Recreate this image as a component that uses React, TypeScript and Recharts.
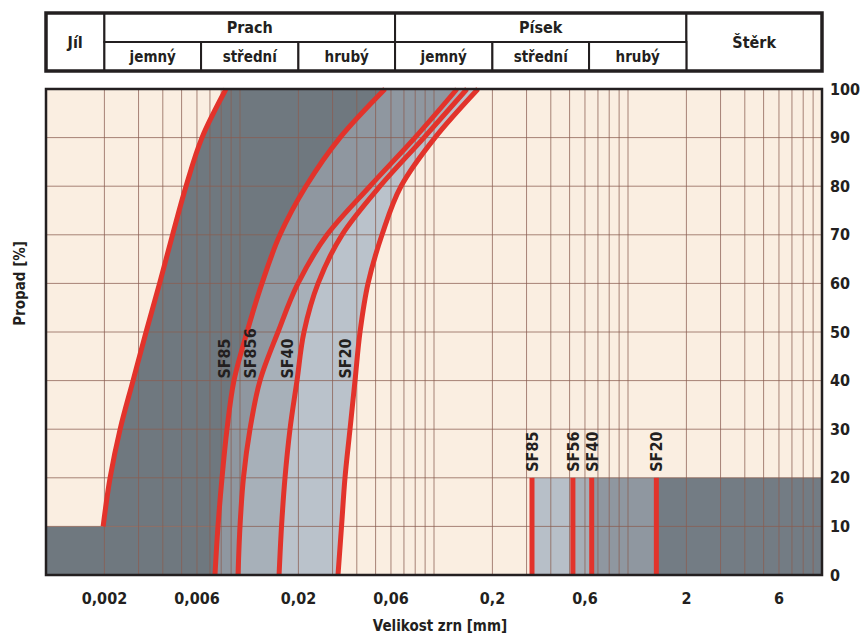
import {
  ComposedChart,
  Area,
  Line,
  XAxis,
  YAxis,
  CartesianGrid,
  ReferenceArea,
  ReferenceLine,
  ReferenceDot,
  Label,
} from 'recharts'

const FONT =
  "'Liberation Sans Narrow', 'DejaVu Sans Condensed', 'Roboto Condensed', 'Arial Narrow', 'Liberation Sans', sans-serif"
const INK = '#231f20'
const RED = '#e2332b'

// propad [%]
const PASSING = [0, 10, 20, 30, 40, 50, 60, 70, 80, 90, 100]
// velikost zrn [mm] for each passing value
const ENVELOPE = [null, 0.00197, 0.00214, 0.00241, 0.00281, 0.00328, 0.00385, 0.00449, 0.00527, 0.00637, 0.00847]
const SF85 = [0.00743, 0.0077, 0.00808, 0.00857, 0.00931, 0.01087, 0.01298, 0.01607, 0.02188, 0.03278, 0.0559]
const SF856 = [0.00977, 0.01, 0.01042, 0.01126, 0.01268, 0.0157, 0.0199, 0.02809, 0.04677, 0.0798, 0.1314]
const SF40 = [0.0159, 0.01637, 0.01706, 0.0181, 0.01967, 0.02137, 0.02526, 0.03357, 0.0527, 0.08882, 0.1479]
const SF20 = [0.032, 0.03337, 0.03477, 0.0369, 0.03916, 0.04156, 0.04571, 0.05395, 0.06761, 0.1012, 0.1686]

const CURVE_LABELS = ['SF85', 'SF856', 'SF40', 'SF20']
const CURVE_KEYS = ['B', 'C', 'D', 'E']
const CURVE_LABEL_AT = 40

// clay block at the bottom left
const CLAY_EDGE = 0.001
const CLAY_TOP = 10

// coarse fraction marks at the bottom right
const SIEVE_LABELS = ['SF85', 'SF56', 'SF40', 'SF20']
const SIEVE_SIZES = [0.32, 0.52, 0.65, 1.4]
const SIEVE_TOP = 20
const SIEVE_END = 10
const SIEVE_FILLS = ['#b7bfc8', '#a6aeb7', '#8f97a0', '#737c84']

const X_TICKS = [0.002, 0.006, 0.02, 0.06, 0.2, 0.6, 2, 6]
const DECADES = [0.001, 0.01, 0.1, 1]
const STEPS = [1, 2, 3, 4, 5, 6, 7, 8, 9]
const GRID_X = [...DECADES.flatMap(d => STEPS.map(s => +(d * s).toPrecision(3))), 10]

// header table
const CLASS_NAMES = ['Jíl', 'Prach', 'Písek', 'Štěrk']
const CLASS_BOUNDS = [0.001, 0.002, 0.063, 2, 10]
const SUB_NAMES = ['jemný', 'střední', 'hrubý', 'jemný', 'střední', 'hrubý']
const SUB_BOUNDS = [0.002, 0.0063, 0.02, 0.063, 0.2, 0.63, 2]

const BAND_FILLS = {
  dark: '#6f787f',
  bc: '#8f97a0',
  cd: '#a7b0b9',
  de: '#bac2cb',
}

const rows = PASSING.map((p, i) => ({
  p,
  A: ENVELOPE[i],
  B: SF85[i],
  C: SF856[i],
  D: SF40[i],
  E: SF20[i],
}))

const fmt = (v: number) => String(v).replace('.', ',')

const PropadLabel = (props: any) => {
  const vb = props.viewBox || {}
  const x = (vb.x ?? 0) + 25
  const y = (vb.y ?? 0) + (vb.height ?? 0) * 0.4
  return (
    <text
      x={x}
      y={y}
      transform={`rotate(-90 ${x} ${y})`}
      textAnchor="middle"
      fontSize={15}
      fontWeight={700}
      fill={INK}
    >
      Propad [%]
    </text>
  )
}

const rotatedText = (text: string, shiftX: number, shiftY: number) => (props: any) => {
  const x = props.cx + shiftX
  const y = props.cy + shiftY
  return (
    <text
      x={x}
      y={y}
      transform={`rotate(-90 ${x} ${y})`}
      textAnchor="start"
      fontSize={16}
      fontWeight={700}
      fill={INK}
    >
      {text}
    </text>
  )
}

function Header() {
  const headerData = CLASS_BOUNDS.map(x => ({ x }))
  const labelStyle = { fill: INK, fontWeight: 700 }
  return (
    <ComposedChart
      width={861}
      height={80}
      data={headerData}
      margin={{ top: 13, right: 39, bottom: 9, left: 46 }}
    >
      <XAxis type="number" dataKey="x" scale="log" domain={[0.001, 10]} allowDataOverflow hide />
      <YAxis type="number" domain={[0, 2]} allowDataOverflow hide />
      {CLASS_NAMES.map((name, i) => {
        const spansBoth = i === 0 || i === CLASS_NAMES.length - 1
        return (
          <ReferenceArea
            key={'c' + i}
            x1={CLASS_BOUNDS[i]}
            x2={CLASS_BOUNDS[i + 1]}
            y1={spansBoth ? 0 : 1}
            y2={2}
            fill="#ffffff"
            fillOpacity={1}
            stroke={INK}
            strokeWidth={2}
            label={{ value: name, position: 'center', fontSize: 16, ...labelStyle }}
          />
        )
      })}
      {SUB_NAMES.map((name, i) => (
        <ReferenceArea
          key={'s' + i}
          x1={SUB_BOUNDS[i]}
          x2={SUB_BOUNDS[i + 1]}
          y1={0}
          y2={1}
          fill="#ffffff"
          fillOpacity={1}
          stroke={INK}
          strokeWidth={2}
          label={{ value: name, position: 'center', fontSize: 15, ...labelStyle }}
        />
      ))}
      <ReferenceArea
        x1={0.001}
        x2={10}
        y1={0}
        y2={2}
        fill="none"
        stroke={INK}
        strokeWidth={3.5}
      />
    </ComposedChart>
  )
}

export default function App() {
  const tickStyle = { fill: INK, fontWeight: 700 }
  return (
    <div
      style={{
        position: 'absolute',
        left: 0,
        top: 0,
        width: 861,
        height: 637,
        background: '#fff',
        fontFamily: FONT,
      }}
    >
      <Header />
      <ComposedChart
        layout="vertical"
        width={861}
        height={557}
        data={rows}
        margin={{ top: 9, right: 0, bottom: 0, left: 0 }}
      >
        <CartesianGrid horizontal={false} vertical={false} fill="#faeee1" />
        <XAxis
          type="number"
          scale="log"
          domain={[0.001, 10]}
          allowDataOverflow
          ticks={X_TICKS}
          interval={0}
          tickFormatter={fmt}
          tickLine={false}
          axisLine={false}
          tickSize={0}
          tickMargin={18}
          height={62}
          tick={{ ...tickStyle, fontSize: 16 }}
        >
          <Label
            value="Velikost zrn [mm]"
            position="insideBottom"
            offset={6}
            dx={6}
            fontSize={15}
            fontWeight={700}
            fill={INK}
          />
        </XAxis>
        <YAxis
          yAxisId="left"
          orientation="left"
          type="number"
          dataKey="p"
          domain={[0, 100]}
          reversed
          width={46}
          tick={false}
          tickLine={false}
          axisLine={false}
        >
          <Label content={PropadLabel} />
        </YAxis>
        <YAxis
          orientation="right"
          type="number"
          dataKey="p"
          domain={[0, 100]}
          reversed
          ticks={PASSING}
          interval={0}
          width={39}
          tickLine={false}
          axisLine={false}
          tickSize={0}
          tickMargin={8}
          tick={{ ...tickStyle, fontSize: 16 }}
        />

        {/* clay block + band between the envelope and SF85 */}
        <Area
          dataKey={(d: any) => (d.p <= CLAY_TOP ? [CLAY_EDGE, d.B] : null)}
          type="linear"
          fill={BAND_FILLS.dark}
          fillOpacity={1}
          stroke="none"
          dot={false}
          activeDot={false}
          isAnimationActive={false}
        />
        <Area
          dataKey={(d: any) => (d.A == null ? null : [d.A, d.B])}
          type="monotone"
          fill={BAND_FILLS.dark}
          fillOpacity={1}
          stroke="none"
          dot={false}
          activeDot={false}
          isAnimationActive={false}
        />
        <Area
          dataKey={(d: any) => [d.B, d.C]}
          type="monotone"
          fill={BAND_FILLS.bc}
          fillOpacity={1}
          stroke="none"
          dot={false}
          activeDot={false}
          isAnimationActive={false}
        />
        <Area
          dataKey={(d: any) => [d.C, d.D]}
          type="monotone"
          fill={BAND_FILLS.cd}
          fillOpacity={1}
          stroke="none"
          dot={false}
          activeDot={false}
          isAnimationActive={false}
        />
        <Area
          dataKey={(d: any) => [d.D, d.E]}
          type="monotone"
          fill={BAND_FILLS.de}
          fillOpacity={1}
          stroke="none"
          dot={false}
          activeDot={false}
          isAnimationActive={false}
        />

        {/* coarse block at the bottom right */}
        {SIEVE_SIZES.map((s, i) => (
          <Area
            key={'sv' + i}
            dataKey={(d: any) =>
              d.p <= SIEVE_TOP ? [s, i + 1 < SIEVE_SIZES.length ? SIEVE_SIZES[i + 1] : SIEVE_END] : null
            }
            type="linear"
            fill={SIEVE_FILLS[i]}
            fillOpacity={1}
            stroke="none"
            dot={false}
            activeDot={false}
            isAnimationActive={false}
          />
        ))}

        <CartesianGrid
          zIndex={150}
          verticalValues={GRID_X}
          horizontalValues={PASSING}
          stroke="#8a5e52"
          strokeOpacity={0.75}
          strokeWidth={1}
        />

        {['A', 'B', 'C', 'D', 'E'].map(k => (
          <Line
            key={k}
            dataKey={k}
            type="monotone"
            stroke={RED}
            strokeWidth={5}
            dot={false}
            activeDot={false}
            isAnimationActive={false}
          />
        ))}

        {SIEVE_SIZES.map((s, i) => (
          <ReferenceLine
            key={'sl' + i}
            zIndex={400}
            segment={[
              { x: s, y: 0 },
              { x: s, y: SIEVE_TOP },
            ]}
            stroke={RED}
            strokeWidth={5}
          />
        ))}

        {CURVE_KEYS.map((k, i) => (
          <ReferenceDot
            key={'cl' + i}
            zIndex={600}
            x={(rows.find(r => r.p === CURVE_LABEL_AT) as any)[k]}
            y={CURVE_LABEL_AT}
            r={0}
            shape={rotatedText(CURVE_LABELS[i], -4, -2)}
          />
        ))}
        {SIEVE_SIZES.map((s, i) => (
          <ReferenceDot
            key={'sd' + i}
            zIndex={600}
            x={s}
            y={SIEVE_TOP}
            r={0}
            shape={rotatedText(SIEVE_LABELS[i], 6, -6)}
          />
        ))}

        <ReferenceArea
          zIndex={700}
          x1={0.001}
          x2={10}
          y1={0}
          y2={100}
          fill="none"
          stroke={INK}
          strokeWidth={2.5}
        />
      </ComposedChart>
    </div>
  )
}
